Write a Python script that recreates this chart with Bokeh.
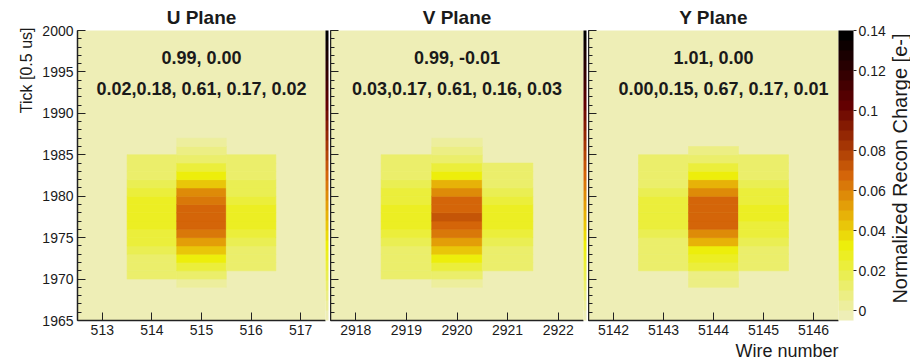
import math
import numpy as np
from bokeh.plotting import figure
from bokeh.models import (LinearColorMapper, ColorBar, FixedTicker, Label, Title,
                          ColumnDataSource, CustomJSTickFormatter, CustomLabelingPolicy)
from bokeh.layouts import row
from bokeh.transform import transform
from bokeh.embed import file_html
from bokeh.resources import INLINE

FONT = "Liberation Sans"

# ---------------- data ----------------
plane_titles = ["U Plane", "V Plane", "Y Plane"]
y_tick_values = [1965, 1970, 1975, 1980, 1985, 1990, 1995, 2000]
cbar_tick_values = [0, 0.02, 0.04, 0.06, 0.08, 0.10, 0.12, 0.14]
y_axis_title = "Tick [0.5 us]"
x_axis_title = "Wire number"
z_axis_title = "Normalized Recon Charge [e-]"

# U plane
u_axis_wires = [513, 514, 515, 516, 517]
u_col_wires = [514, 515, 516]
u_col_first_tick = [1970, 1969, 1971]
u_col_514 = [0.011, 0.012, 0.012, 0.019, 0.020, 0.020, 0.026, 0.027, 0.027, 0.026, 0.020, 0.019, 0.012, 0.012, 0.011]
u_col_515 = [0.004, 0.011, 0.020, 0.031, 0.043, 0.052, 0.061, 0.067, 0.068, 0.067, 0.061, 0.056, 0.043, 0.031, 0.020, 0.011, 0.008, 0.004]
u_col_516 = [0.011, 0.012, 0.012, 0.019, 0.020, 0.026, 0.027, 0.026, 0.020, 0.019, 0.019, 0.012, 0.012, 0.011]
u_line1 = "0.99, 0.00"
u_line2 = "0.02,0.18, 0.61, 0.17, 0.02"

# V plane
v_axis_wires = [2918, 2919, 2920, 2921, 2922]
v_col_wires = [2919, 2920, 2921]
v_col_first_tick = [1970, 1969, 1971]
v_col_2919 = [0.011, 0.012, 0.012, 0.012, 0.019, 0.020, 0.026, 0.027, 0.026, 0.020, 0.020, 0.019, 0.012, 0.012, 0.011]
v_col_2920 = [0.004, 0.011, 0.020, 0.031, 0.043, 0.052, 0.061, 0.067, 0.072, 0.067, 0.067, 0.056, 0.047, 0.031, 0.020, 0.011, 0.005, 0.004]
v_col_2921 = [0.011, 0.012, 0.012, 0.019, 0.020, 0.026, 0.027, 0.026, 0.020, 0.019, 0.012, 0.012, 0.011]
v_line1 = "0.99, -0.01"
v_line2 = "0.03,0.17, 0.61, 0.16, 0.03"

# Y plane
y_axis_wires = [5142, 5143, 5144, 5145, 5146]
y_col_wires = [5143, 5144, 5145]
y_col_first_tick = [1971, 1969, 1971]
y_col_5143 = [0.011, 0.011, 0.012, 0.012, 0.019, 0.020, 0.021, 0.021, 0.020, 0.019, 0.012, 0.012, 0.011, 0.011]
y_col_5144 = [0.009, 0.009, 0.020, 0.027, 0.031, 0.047, 0.056, 0.067, 0.068, 0.068, 0.067, 0.056, 0.047, 0.031, 0.020, 0.011, 0.009]
y_col_5145 = [0.011, 0.012, 0.012, 0.019, 0.020, 0.020, 0.026, 0.026, 0.020, 0.020, 0.019, 0.012, 0.012, 0.011]
y_line1 = "1.01, 0.00"
y_line2 = "0.00,0.15, 0.67, 0.17, 0.01"

# ---------------- palette (inverted dark body radiator) ----------------
stops_t = np.linspace(0, 1, 9)
stops_rgb = np.array([[238, 238, 182], [234, 238, 95], [237, 238, 11], [230, 168, 8],
                      [212, 101, 9], [156, 45, 3], [99, 0, 1], [45, 0, 1], [0, 0, 0]], dtype=float)
N_BANDS = 29
palette = []
for i in range(N_BANDS):
    t = i / (N_BANDS - 1)
    rgb = [int(round(np.interp(t, stops_t, stops_rgb[:, k]))) for k in range(3)]
    palette.append("#%02x%02x%02x" % tuple(rgb))

Z_LOW, Z_HIGH = -0.005, 0.14
mapper = LinearColorMapper(palette=palette, low=Z_LOW, high=Z_HIGH)

FH = 290
Y0, Y1 = 1965, 2000
TXT = "#1a1a1a"


def build_source(col_wires, col_first, col_values):
    xs, ys, zs = [], [], []
    for w, t0, vals in zip(col_wires, col_first, col_values):
        for k, v in enumerate(vals):
            xs.append(w)
            ys.append(t0 + k + 0.5)
            zs.append(v)
    return ColumnDataSource(dict(x=xs, y=ys, z=zs))


def make_panel(title, axis_wires, src, line1, line2, line1_x, line2_x, fw, bl, br, first):
    p = figure(frame_width=fw, frame_height=FH,
               x_range=(axis_wires[0] - 0.5, axis_wires[-1] + 0.5), y_range=(Y0, Y1),
               min_border_left=bl, min_border_right=br, min_border_top=30, min_border_bottom=42,
               output_backend="svg", toolbar_location=None, title=title,
               background_fill_color=palette[0], border_fill_color="white",
               outline_line_color=None)
    p.title.align = "center"
    p.title.text_font = FONT
    p.title.text_font_style = "bold"
    p.title.text_font_size = "19px"
    p.title.text_color = TXT
    p.title.standoff = 6
    p.grid.visible = False
    p.rect("x", "y", width=1, height=1, source=src,
           fill_color=transform("z", mapper), line_color=transform("z", mapper), line_width=0.6)

    xa = p.xaxis[0]
    xa.ticker = FixedTicker(ticks=axis_wires)
    xa.major_tick_in = 8
    xa.major_tick_out = 0
    xa.minor_tick_line_color = None
    xa.major_label_text_font = FONT
    xa.major_label_text_font_size = "14px"
    xa.major_label_text_color = TXT
    xa.major_label_standoff = 4
    xa.axis_line_width = 1.5
    xa.axis_line_color = "#222222"
    xa.major_tick_line_color = "#222222"

    ya = p.yaxis[0]
    ya.ticker = FixedTicker(ticks=y_tick_values, minor_ticks=list(range(Y0, Y1 + 1)))
    ya.major_tick_in = 8
    ya.major_tick_out = 0
    ya.minor_tick_in = 4
    ya.minor_tick_out = 0
    ya.axis_line_width = 1.5
    ya.axis_line_color = "#222222"
    ya.major_tick_line_color = "#222222"
    ya.minor_tick_line_color = "#222222"
    ya.major_label_text_font = FONT
    ya.major_label_text_color = TXT
    if first:
        ya.major_label_text_font_size = "14px"
        ya.major_label_standoff = 4
    else:
        # shared tick axis: ticks only, labels suppressed
        ya.major_label_text_font_size = "0px"
        ya.major_label_standoff = 0
        ya.major_label_policy = CustomLabelingPolicy(code="return new Set()")

    p.add_layout(Label(x=line1_x, y=263, x_units="data", y_units="screen", text=line1,
                       text_font=FONT, text_font_style="bold", text_font_size="18px",
                       text_align="center", text_baseline="alphabetic", text_color=TXT))
    p.add_layout(Label(x=line2_x, y=232, x_units="data", y_units="screen", text=line2,
                       text_font=FONT, text_font_style="bold", text_font_size="18px",
                       text_align="center", text_baseline="alphabetic", text_color=TXT))
    return p


u_src = build_source(u_col_wires, u_col_first_tick, [u_col_514, u_col_515, u_col_516])
v_src = build_source(v_col_wires, v_col_first_tick, [v_col_2919, v_col_2920, v_col_2921])
y_src = build_source(y_col_wires, y_col_first_tick, [y_col_5143, y_col_5144, y_col_5145])

p1 = make_panel(plane_titles[0], u_axis_wires, u_src, u_line1, u_line2, 515, 515, 248, 77, 5, True)
p2 = make_panel(plane_titles[1], v_axis_wires, v_src, v_line1, v_line2, 2920, 2920, 253, 0, 5, False)
p3 = make_panel(plane_titles[2], y_axis_wires, y_src, y_line1, y_line2, 5144, 5144.2, 250, 0, 50, False)

# thin squeezed palettes between panels
for p in (p1, p2):
    thin = ColorBar(color_mapper=mapper, width=3, height=FH, padding=0, margin=0,
                    location="top_left", ticker=FixedTicker(ticks=[]),
                    major_tick_line_color=None, minor_tick_line_color=None, label_standoff=0,
                    bar_line_color=None, border_line_color=None, background_fill_alpha=0)
    p.add_layout(thin, "right")

# main colour bar
cb = ColorBar(color_mapper=mapper, width=15, height=FH, padding=0, margin=1,
              location="top_left",
              ticker=FixedTicker(ticks=cbar_tick_values),
              formatter=CustomJSTickFormatter(code="return tick.toFixed(2).replace(/0+$/, '').replace(/\\.$/, '');"),
              major_tick_in=0, major_tick_out=3, major_tick_line_color="#222222",
              minor_tick_line_color=None, label_standoff=2,
              major_label_text_font=FONT, major_label_text_font_size="14px",
              major_label_text_color=TXT,
              bar_line_color=None, border_line_color=None, background_fill_alpha=0)
p3.add_layout(cb, "right")

# axis titles
ytitle = Title(text=y_axis_title, align="right", text_font=FONT, text_font_style="normal",
               text_font_size="16px", text_color=TXT, standoff=9, offset=-3)
p1.add_layout(ytitle, "left")
xtitle = Title(text=x_axis_title, align="right", text_font=FONT, text_font_style="normal",
               text_font_size="18px", text_color=TXT, standoff=2)
p3.add_layout(xtitle, "below")

# narrow strip holding the colour-bar title (its frame is aligned with the panels' frames)
p4 = figure(width=22, height=362, x_range=(0, 22), y_range=(0, FH),
            x_axis_location=None, y_axis_location=None,
            min_border_left=0, min_border_right=0, min_border_top=0, min_border_bottom=0,
            output_backend="svg", toolbar_location=None, outline_line_color=None,
            background_fill_color="white", border_fill_color="white")
p4.grid.visible = False
p4.add_layout(Label(x=11, y=FH - 3, x_units="data", y_units="data", text=z_axis_title,
                    angle=math.pi / 2, text_font=FONT, text_font_size="20px",
                    text_align="right", text_baseline="middle", text_color=TXT))

layout = row(p1, p2, p3, p4)
open("out.html", "w").write(file_html(layout, INLINE))
